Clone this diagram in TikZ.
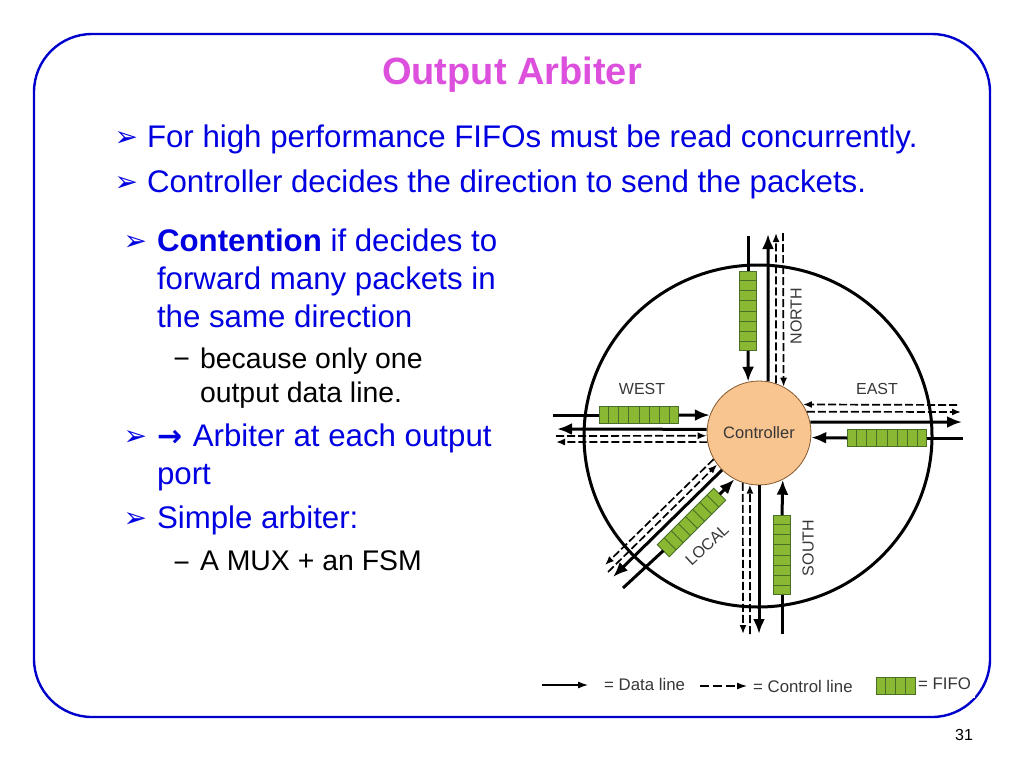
\documentclass[tikz,border=0pt]{standalone}
\usepackage{xcolor}
\usepackage{fontspec}
\setmainfont{Liberation Sans}
\newfontfamily\symfont{DejaVu Sans}
\usetikzlibrary{positioning,shapes,arrows.meta}
\definecolor{slideblue}{RGB}{0,0,204}
\definecolor{textblue}{RGB}{0,0,225}
\definecolor{titlepink}{RGB}{221,80,221}
\definecolor{fifogreen}{RGB}{138,184,50}
\definecolor{fifoedge}{RGB}{72,110,40}
\definecolor{ctrlfill}{RGB}{248,196,144}
\definecolor{labelgray}{RGB}{55,55,55}
\tikzstyle{body}=[inner sep=0pt, outer sep=0pt, anchor=north west, align=left, text=textblue,
        font=\fontsize{31.25}{37.8}\selectfont]
\tikzstyle{subbody}=[body, text=black, font=\fontsize{28.4}{34.5}\selectfont]
\tikzstyle{bullet}=[inner sep=0pt, outer sep=0pt, text=textblue, yshift=-14.5pt, font=\symfont\fontsize{28}{28}\selectfont]
\tikzstyle{fifo}=[rectangle split, rectangle split horizontal, rectangle split parts=8,
        rectangle split empty part width=3.9pt, rectangle split empty part height=17pt,
        rectangle split empty part depth=0pt, inner sep=0pt, outer sep=0pt,
        draw=fifoedge, line width=0.9pt, fill=fifogreen]
\tikzstyle{data}=[-{Latex[length=15pt,width=12pt]}, line width=3pt]
\tikzstyle{wire}=[line width=3pt]
\tikzstyle{ctrl}=[-{Latex[length=9pt,width=7pt]}, line width=1.7pt, dash pattern=on 8pt off 3pt]
\tikzstyle{port}=[text=labelgray, inner sep=0pt, font=\fontsize{16}{16}\selectfont]
\tikzstyle{legend}=[text=labelgray, inner sep=0pt, font=\fontsize{16.8}{16.8}\selectfont]
\begin{document}
\begin{tikzpicture}[x=1pt, y=-1pt]
    \useasboundingbox (0,0) rectangle (1024,768);
    \fill[white] (0,0) rectangle (1024,768);
    \draw[slideblue, line width=2.4pt, rounded corners=58pt] (34,34) rectangle (990,717);
    \fill[white] (955,670) rectangle (975,698);
    % slide text
    \node (title) at (512,75) [inner sep=0pt, text=titlepink, font=\fontsize{38}{38}\selectfont\bfseries] {Output Arbiter};
    \node (line1) at (147,125) [body] {For high performance FIFOs must be read concurrently.};
    \node (line2) at (147,170) [body] {Controller decides the direction to send the packets.};
    \node (item1) at (157,229) [body] {\textbf{Contention} if decides to\\forward many packets in\\the same direction};
    \node (sub1) at (200,347.5) [subbody] {because only one\\output data line.};
    \node (item2) at (157,424) [body] {{\symfont\bfseries\fontsize{30}{37.8}\selectfont\char"2192}\hspace{2pt}\ Arbiter at each output\\port};
    \node (item3) at (157,506) [body] {Simple arbiter:};
    \node (sub2) at (200,551) [subbody] {A MUX + an FSM};
    \node (b1) [bullet, left=9pt of line1.north west] {\char"27A2};
    \node (b2) [bullet, left=9pt of line2.north west] {\char"27A2};
    \node (b3) [bullet, left=10pt of item1.north west] {\char"27A2};
    \node (b4) [bullet, left=10pt of item2.north west] {\char"27A2};
    \node (b5) [bullet, left=10pt of item3.north west] {\char"27A2};
    \node (d1) [subbody, left=10pt of sub1.north west, anchor=north east, yshift=-11pt] {\char"2212};
    \node (d2) [subbody, left=10pt of sub2.north west, anchor=north east, yshift=-11pt] {\char"2212};
    \node (num) at (964,735) [inner sep=0pt, font=\fontsize{16}{16}\selectfont] {31};
    % diagram
    \node (Ring) at (758,436) [ellipse, draw, line width=3pt, minimum width=348pt, minimum height=342pt] {};
    \node (Nfifo) at (748,311) [fifo, rotate=90] {};
    \node (Wfifo) at (639,415) [fifo] {};
    \node (Efifo) at (887,438) [fifo] {};
    \node (Sfifo) at (782,555) [fifo, rotate=90] {};
    \node (Lfifo) at (691.5,522.5) [fifo, rotate=45] {};
    \coordinate (Nin) at (748,236);
    \coordinate (Nout) at (768,234);
    \coordinate (Nup) at (776,233);
    \coordinate (Ndown) at (783,233);
    \coordinate (Win) at (553,415);
    \coordinate (Wout) at (557,429);
    \coordinate (Wright) at (556,436);
    \coordinate (Wleft) at (556,442);
    \coordinate (Eleft) at (957,405);
    \coordinate (Eright) at (961,412);
    \coordinate (Eout) at (962,422);
    \coordinate (Ein) at (963,438);
    \coordinate (Sin) at (782,634);
    \coordinate (Sout) at (759,634);
    \coordinate (Sup) at (750,634);
    \coordinate (Sdown) at (743,634);
    \coordinate (Lin) at (623,588);
    \coordinate (Lout) at (613,577);
    \coordinate (Lup) at (608,572);
    \coordinate (Ldown) at (605,565);
    \node (Controller) at (759,433) [circle, draw=brown!70!black, line width=0.8pt, fill=ctrlfill, minimum size=104pt, inner sep=0pt,
        text=labelgray, font=\fontsize{16.5}{16.5}\selectfont] {Controller};
    % north
    \draw[wire] (Nin) -- (Nfifo.east);
    \draw[data] (Nfifo.west) -- (Controller.102);
    \draw[data] (Controller.80) -- (Nout);
    \draw[ctrl] (Controller.71) -- (Nup);
    \draw[ctrl] (Ndown) -- (Controller.62);
    % west
    \draw[wire] (Win) -- (Wfifo.west);
    \draw[data] (Wfifo.east) -- (Controller.160);
    \draw[data] (Controller.176) -- (Wout);
    \draw[ctrl] (Wright) -- (Controller.183);
    \draw[ctrl] (Controller.190) -- (Wleft);
    % east
    \draw[ctrl] (Eleft) -- (Controller.33);
    \draw[ctrl] (Controller.24) -- (Eright);
    \draw[data] (Controller.12) -- (Eout);
    \draw[wire] (Ein) -- (Efifo.east);
    \draw[data] (Efifo.west) -- (Controller.-5);
    % south
    \draw[wire] (Sin) -- (Sfifo.west);
    \draw[data] (Sfifo.east) -- (Controller.-63);
    \draw[data] (Controller.-90) -- (Sout);
    \draw[ctrl] (Sup) -- (Controller.-100);
    \draw[ctrl] (Controller.-108) -- (Sdown);
    % local
    \draw[wire] (Lin) -- (Lfifo.west);
    \draw[data] (Lfifo.east) -- (Controller.242);
    \draw[data] (Controller.225) -- (Lout);
    \draw[ctrl] (Lup) -- (Controller.217);
    \draw[ctrl] (Controller.210) -- (Ldown);
    % port names
    \node (west) at (642,389) [port] {WEST};
    \node (east) at (877,389) [port] {EAST};
    \node (north) at (796,316) [port, rotate=90] {NORTH};
    \node (south) at (808,548) [port, rotate=90] {SOUTH};
    \node (local) at (707,545) [port, rotate=43] {LOCAL};
    % legend
    \coordinate (keyA) at (542,685);
    \coordinate (keyB) at (588,685);
    \coordinate (keyC) at (700,686);
    \coordinate (keyD) at (747,686);
    \draw[-{Latex[length=10pt,width=7pt]}, line width=1.2pt] (keyA) -- (keyB);
    \draw[-{Latex[length=10pt,width=7pt]}, line width=1.2pt, dash pattern=on 9pt off 4pt] (keyC) -- (keyD);
    \node (key1) at (604,684) [legend, anchor=west] {= Data line};
    \node (key2) at (753,686) [legend, anchor=west] {= Control line};
    \node (keyfifo) at (876,686) [fifo, anchor=west, rectangle split parts=4] {};
    \node (key3) at (918,684) [legend, anchor=west] {= FIFO};
\end{tikzpicture}
\end{document}
